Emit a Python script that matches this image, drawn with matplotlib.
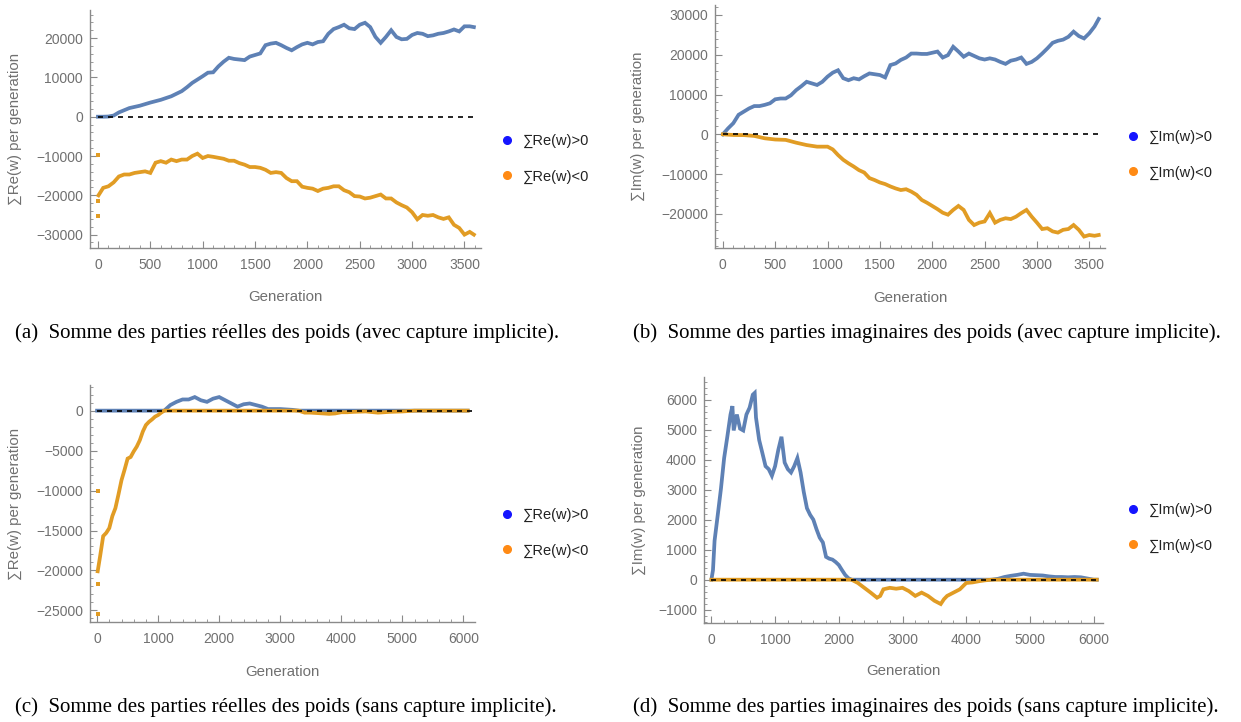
import matplotlib
matplotlib.use("Agg")
import matplotlib.pyplot as plt
import matplotlib.transforms as mtransforms
from matplotlib.lines import Line2D
from matplotlib.ticker import MultipleLocator

# --- (a) real parts, with implicit capture ---------------------------------
gen_a_pos = [0, 50, 100, 150, 200, 300, 400, 500, 600, 700, 800, 850, 900, 1000, 1050,
             1100, 1150, 1200, 1250, 1300, 1400, 1450, 1500, 1550, 1600, 1650, 1700, 1750,
             1800, 1850, 1900, 1950, 2000, 2050, 2100, 2150, 2200, 2250, 2300, 2350, 2400,
             2450, 2500, 2550, 2600, 2650, 2700, 2750, 2800, 2850, 2900, 2950, 3000, 3050,
             3100, 3150, 3200, 3250, 3300, 3350, 3400, 3450, 3500, 3550, 3590]
re_pos_a = [0, 0, 50, 300, 1100, 2200, 2800, 3600, 4300, 5200, 6500, 7500, 8600, 10300, 11200,
            11300, 12800, 14000, 15000, 14700, 14400, 15300, 15700, 16100, 18200, 18600, 18800, 18200,
            17500, 16900, 17700, 18400, 18800, 18400, 19000, 19200, 21100, 22300, 22800, 23400, 22500,
            22300, 23400, 23900, 22800, 20300, 18800, 20300, 22000, 20300, 19700, 19800, 20800, 21300,
            21100, 20500, 20700, 21100, 21300, 21700, 22200, 21700, 23000, 23000, 22800]
gen_a_neg = [5, 50, 100, 150, 200, 250, 300, 350, 400, 450, 500, 550, 600, 650, 700, 750, 800,
             850, 900, 950, 1000, 1050, 1100, 1200, 1250, 1300, 1350, 1400, 1450, 1500, 1550,
             1600, 1650, 1700, 1750, 1800, 1850, 1900, 1950, 2000, 2050, 2100, 2150, 2200, 2250,
             2300, 2350, 2400, 2450, 2500, 2550, 2600, 2650, 2700, 2750, 2800, 2850, 2900, 2950,
             3000, 3050, 3100, 3150, 3200, 3250, 3300, 3350, 3400, 3450, 3500, 3550, 3590]
re_neg_a = [-20000, -18100, -17700, -16700, -15200, -14700, -14700, -14300, -14100, -13900, -14300,
            -11700, -11300, -11700, -10900, -11300, -10900, -10900, -10000, -9400, -10500, -10000,
            -10200, -10700, -11200, -11200, -11800, -12200, -12800, -12800, -13000, -13500, -14300,
            -14100, -14300, -15600, -16400, -16400, -17800, -18100, -18300, -18900, -18300, -18100,
            -17700, -17700, -18700, -19200, -20200, -20300, -20800, -20600, -20200, -19800, -20800,
            -20800, -21800, -22500, -23100, -24300, -26100, -25000, -25200, -25000, -25600, -26000,
            -25600, -27500, -28300, -30000, -29300, -30000]
gen_a_stray = [5, 5, 5]
re_a_stray = [-9800, -21500, -25300]

# --- (b) imaginary parts, with implicit capture ----------------------------
gen_b_pos = [0, 50, 100, 150, 200, 250, 300, 350, 400, 450, 500, 550, 600, 650, 700, 750, 800,
             850, 900, 950, 1000, 1050, 1100, 1150, 1200, 1250, 1300, 1350, 1400, 1450, 1500,
             1550, 1600, 1650, 1700, 1750, 1800, 1850, 1900, 1950, 2000, 2050, 2100, 2150, 2200,
             2250, 2300, 2350, 2400, 2450, 2500, 2550, 2600, 2650, 2700, 2750, 2800, 2850, 2900,
             2950, 3000, 3050, 3100, 3150, 3200, 3250, 3300, 3350, 3400, 3450, 3500, 3550, 3590]
im_pos_b = [0, 1500, 2800, 4900, 5700, 6500, 7100, 7100, 7400, 7800, 8800, 9000, 9000, 9800,
            11100, 12100, 13200, 12800, 12400, 13200, 14500, 15500, 16100, 14100, 13600, 14100,
            13800, 14600, 15300, 15100, 14900, 14300, 17400, 17800, 18700, 19300, 20300, 20300,
            20200, 20200, 20500, 20800, 19300, 19900, 22000, 20800, 19500, 20300, 19700, 19100,
            18800, 19100, 18800, 18200, 17700, 18500, 18800, 19300, 17700, 18200, 19100, 20300,
            21600, 23000, 23500, 23800, 24500, 25800, 24700, 24100, 25400, 27100, 29000]
gen_b_neg = [0, 100, 200, 300, 400, 500, 600, 700, 800, 900, 1000, 1050, 1100, 1150, 1200, 1250,
             1300, 1350, 1400, 1450, 1500, 1550, 1600, 1650, 1700, 1750, 1800, 1850, 1900, 1950,
             2000, 2050, 2100, 2150, 2200, 2250, 2300, 2350, 2400, 2450, 2500, 2550, 2600, 2650,
             2700, 2750, 2800, 2850, 2900, 2950, 3000, 3050, 3100, 3150, 3200, 3250, 3300, 3350,
             3400, 3450, 3500, 3550, 3590]
im_neg_b = [0, -170, -200, -400, -1000, -1300, -1400, -2100, -2700, -3100, -3100, -3800, -5200,
            -6400, -7300, -8100, -9000, -9600, -11000, -11500, -12100, -12500, -13100, -13600,
            -14000, -13800, -14400, -15200, -16500, -17200, -18000, -18800, -19700, -20200, -19000,
            -18000, -19000, -21500, -22800, -22200, -21900, -19800, -22200, -21500, -21100, -21300,
            -20700, -19800, -19000, -20700, -22200, -23800, -23600, -24400, -24700, -24000, -23800,
            -22800, -24000, -25700, -25300, -25500, -25300]

# --- (c) real parts, without implicit capture ------------------------------
gen_c_pos = [0, 1100, 1200, 1300, 1400, 1500, 1600, 1700, 1800, 1900, 2000, 2100, 2200, 2300,
             2400, 2500, 2600, 2700, 2800, 2900, 3000, 3100, 3200, 3300, 6070]
re_pos_c = [0, 0, 700, 1100, 1400, 1400, 1700, 1300, 1100, 1500, 1700, 1300, 900, 500, 800, 900,
            700, 500, 200, 200, 200, 150, 100, 0, 0]
gen_c_neg = [10, 50, 100, 150, 200, 250, 300, 350, 400, 450, 500, 550, 600, 650, 700, 750, 800,
             850, 900, 950, 1000, 1050, 1100, 3300, 3400, 3500, 3600, 3700, 3800, 3900, 4000,
             4100, 4200, 4400, 4600, 4800, 5000, 5200, 6070]
re_neg_c = [-20100, -18200, -15700, -15300, -14700, -13200, -12200, -10500, -8700, -7400, -6000,
            -5800, -5100, -4500, -3700, -2600, -1800, -1400, -1100, -750, -550, -250, 0, 0, -250,
            -250, -300, -350, -400, -350, -200, -200, -150, -100, -250, -150, -100, 0, 0]
gen_c_stray = [10, 10, 10]
re_c_stray = [-10000, -21700, -25400]

# --- (d) imaginary parts, without implicit capture -------------------------
gen_d_pos = [0, 25, 50, 100, 150, 200, 250, 300, 330, 350, 400, 450, 500, 550, 600, 650, 680,
             700, 750, 800, 850, 900, 950, 1000, 1050, 1100, 1150, 1200, 1250, 1300, 1350, 1400,
             1450, 1500, 1550, 1600, 1650, 1700, 1750, 1800, 1850, 1900, 1950, 2000, 2050, 2100,
             2150, 2200, 4400, 4500, 4600, 4700, 4800, 4900, 5000, 5100, 5200, 5300, 5400, 5500,
             5600, 5700, 5800, 5900, 6000, 6050]
im_pos_d = [0, 320, 1300, 2160, 3030, 4050, 4760, 5500, 5780, 4970, 5500, 5030, 4970, 5500, 5730,
            6160, 6220, 5400, 4650, 4220, 3780, 3680, 3460, 3780, 4320, 4760, 3900, 3680, 3570,
            3780, 4050, 3570, 2920, 2380, 2160, 2000, 1680, 1400, 1240, 760, 700, 670, 590, 490,
            320, 160, 50, 0, 0, 30, 90, 130, 160, 200, 160, 150, 140, 110, 90, 90, 80, 90, 80,
            40, 0, 0]
gen_d_neg = [0, 2200, 2250, 2300, 2400, 2500, 2600, 2650, 2700, 2800, 2900, 3000, 3100, 3200,
             3300, 3400, 3500, 3600, 3650, 3700, 3800, 3900, 4000, 4100, 4200, 4300, 4400, 6050]
im_neg_d = [0, 0, -55, -110, -270, -430, -600, -540, -320, -270, -300, -270, -380, -540, -430,
            -540, -700, -810, -650, -540, -430, -320, -110, -90, -50, -20, 0, 0]

captions = [
    "(a)  Somme des parties réelles des poids (avec capture implicite).",
    "(b)  Somme des parties imaginaires des poids (avec capture implicite).",
    "(c)  Somme des parties réelles des poids (sans capture implicite).",
    "(d)  Somme des parties imaginaires des poids (sans capture implicite).",
]

BLUE = "#5e81b5"
ORANGE = "#e19c24"
AXIS_GRAY = "#8a8a8a"
TEXT_GRAY = "#707070"

plt.rcParams['font.family'] = ['Liberation Sans', 'DejaVu Sans']

W, H = 1241, 722
fig = plt.figure(figsize=(W / 100, H / 100), dpi=100)


def add_axes_px(left, top, right, bottom):
    return fig.add_axes([left / W, 1 - bottom / H, (right - left) / W, (bottom - top) / H])


panels = [
    dict(box=(90, 10, 481, 248), xlim=(-76, 3658), ylim=(-33400, 27150),
         xmaj=500, xmin=100, ymaj=10000, ymin=2000, part="Re",
         pos=(gen_a_pos, re_pos_a), neg=(gen_a_neg, re_neg_a), stray=(gen_a_stray, re_a_stray),
         ylab_x=15, xlab_y=297, leg=(501, 159), cap=(15, 333)),
    dict(box=(715, 5, 1105, 248), xlim=(-75, 3650), ylim=(-28570, 32500),
         xmaj=500, xmin=100, ymaj=10000, ymin=2000, part="Im",
         pos=(gen_b_pos, im_pos_b), neg=(gen_b_neg, im_neg_b), stray=None,
         ylab_x=638, xlab_y=298, leg=(1127, 155), cap=(633, 333)),
    dict(box=(90, 385, 475, 622), xlim=(-116, 6190), ylim=(-26450, 3210),
         xmaj=1000, xmin=200, ymaj=5000, ymin=1000, part="Re",
         pos=(gen_c_pos, re_pos_c), neg=(gen_c_neg, re_neg_c), stray=(gen_c_stray, re_c_stray),
         ylab_x=15, xlab_y=672, leg=(501, 533), cap=(15, 707)),
    dict(box=(704, 377, 1103, 623), xlim=(-116, 6147), ylim=(-1442, 6750),
         xmaj=1000, xmin=200, ymaj=1000, ymin=200, part="Im",
         pos=(gen_d_pos, im_pos_d), neg=(gen_d_neg, im_neg_d), stray=None,
         ylab_x=639, xlab_y=671, leg=(1127, 528), cap=(633, 707)),
]

for p, cap in zip(panels, captions):
    ax = add_axes_px(*p["box"])
    ax.set_xlim(*p["xlim"])
    ax.set_ylim(*p["ylim"])

    ax.plot(*p["pos"], color=BLUE, lw=2.7, zorder=3, solid_joinstyle="miter")
    ax.plot(*p["neg"], color=ORANGE, lw=2.7, zorder=4, solid_joinstyle="miter")
    if p["stray"] is not None:
        ax.scatter(*p["stray"], s=5, color=ORANGE, marker="s", lw=0, zorder=4)
    ax.hlines(0, 0, p["xlim"][1] - 30, colors="black", linestyles=(0, (3, 3)), lw=1.2, zorder=6)

    for s in ("top", "right"):
        ax.spines[s].set_visible(False)
    for s in ("left", "bottom"):
        ax.spines[s].set_color(AXIS_GRAY)
        ax.spines[s].set_linewidth(1.0)
    ax.xaxis.set_major_locator(MultipleLocator(p["xmaj"]))
    ax.xaxis.set_minor_locator(MultipleLocator(p["xmin"]))
    ax.yaxis.set_major_locator(MultipleLocator(p["ymaj"]))
    ax.yaxis.set_minor_locator(MultipleLocator(p["ymin"]))
    ax.tick_params(which="both", direction="in", colors=AXIS_GRAY,
                   labelcolor=TEXT_GRAY, labelsize=10)
    ax.tick_params(which="major", length=5, width=0.8)
    ax.tick_params(which="minor", length=2.5, width=0.6)
    ax.tick_params(axis="x", pad=7)
    ax.tick_params(axis="y", pad=5)

    part = p["part"]
    ax.set_ylabel(f"∑{part}(w) per generation", color=TEXT_GRAY, fontsize=10.8)
    ax.set_xlabel("Generation", color=TEXT_GRAY, fontsize=10.8)
    ax.yaxis.set_label_coords(p["ylab_x"] / W, 0.5,
                              transform=mtransforms.blended_transform_factory(fig.transFigure, ax.transAxes))
    ax.xaxis.set_label_coords(0.5, 1 - p["xlab_y"] / H,
                              transform=mtransforms.blended_transform_factory(ax.transAxes, fig.transFigure))
    ax.yaxis.label.set_va("center")
    ax.xaxis.label.set_va("center")

    handles = [Line2D([], [], ls="", marker="o", markersize=5.5, color="#1515ff"),
               Line2D([], [], ls="", marker="o", markersize=5.5, color="#ff8a14")]
    leg = ax.legend(handles, [f"∑{part}(w)>0", f"∑{part}(w)<0"],
                    loc="center left", bbox_to_anchor=(p["leg"][0] / W, 1 - p["leg"][1] / H),
                    bbox_transform=fig.transFigure, frameon=False, fontsize=10.5,
                    borderpad=0, borderaxespad=0, handlelength=0.8, handletextpad=0.7,
                    labelspacing=1.45)
    for t in leg.get_texts():
        t.set_color("#222222")

    fig.text(p["cap"][0] / W, 1 - p["cap"][1] / H, cap, ha="left", va="center",
             fontsize=15, family=["Liberation Serif", "DejaVu Serif"], color="black")

fig.savefig("out.png", dpi=100)
